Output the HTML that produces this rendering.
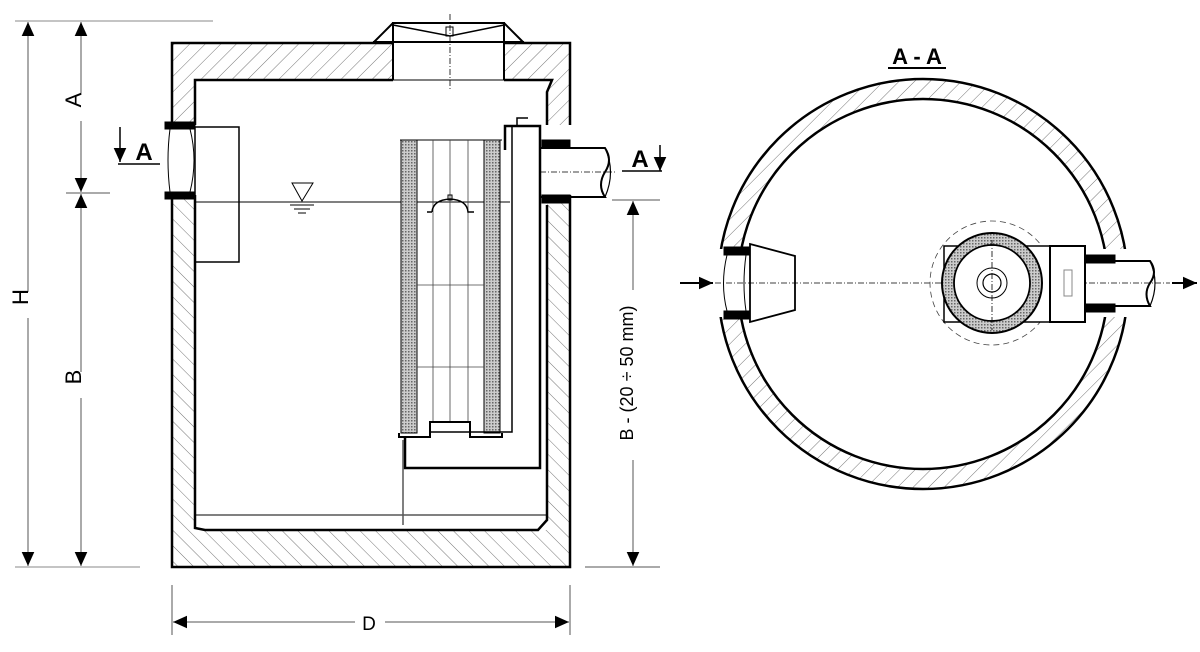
<!DOCTYPE html>
<html><head><meta charset="utf-8"><style>html,body{margin:0;padding:0;background:#fff}svg{display:block}</style></head>
<body>
<svg width="1200" height="652" viewBox="0 0 1200 652" xmlns="http://www.w3.org/2000/svg" font-family="Liberation Sans, sans-serif">
<defs>
<pattern id="h" patternUnits="userSpaceOnUse" width="11" height="11" patternTransform="rotate(45)">
<rect width="11" height="11" fill="#fff"/><line x1="0" y1="0" x2="0" y2="11" stroke="#666" stroke-width="0.9"/></pattern>
<pattern id="h2" patternUnits="userSpaceOnUse" width="11" height="11" patternTransform="rotate(-45)">
<rect width="11" height="11" fill="#fff"/><line x1="0" y1="0" x2="0" y2="11" stroke="#666" stroke-width="0.9"/></pattern>
<pattern id="x" patternUnits="userSpaceOnUse" width="3" height="3">
<rect width="3" height="3" fill="#ccc"/><rect width="1.5" height="1.5" fill="#666"/></pattern>
<marker id="ar" viewBox="0 0 10 10" refX="10" refY="5" markerUnits="userSpaceOnUse" markerWidth="16" markerHeight="14" orient="auto-start-reverse"><path d="M0,0.5 L10,5 L0,9.5z" fill="#000"/></marker>
</defs>
<g stroke="#000" fill="none">
<!-- left dims -->
<line x1="15" y1="21" x2="213" y2="21" stroke="#888"/>
<line x1="15" y1="567" x2="140" y2="567" stroke="#888"/>
<line x1="66" y1="193" x2="110" y2="193" stroke="#555"/>
<line x1="28" y1="22" x2="28" y2="566" stroke="#555" marker-start="url(#ar)" marker-end="url(#ar)"/>
<line x1="81" y1="22" x2="81" y2="192" stroke="#555" marker-start="url(#ar)" marker-end="url(#ar)"/>
<line x1="81" y1="194" x2="81" y2="566" stroke="#555" marker-start="url(#ar)" marker-end="url(#ar)"/>
<rect x="20" y="292" width="18" height="26" fill="#fff" stroke="none"/>
<rect x="72" y="95" width="18" height="26" fill="#fff" stroke="none"/>
<rect x="72" y="372" width="18" height="26" fill="#fff" stroke="none"/>
<!-- section markers -->
<line x1="120" y1="127" x2="120" y2="162" stroke-width="1.5" marker-end="url(#ar)"/>
<line x1="118" y1="164" x2="160" y2="164" stroke-width="1.5"/>
<line x1="660" y1="145" x2="660" y2="171" stroke-width="1.5" marker-end="url(#ar)"/>
<line x1="622" y1="171" x2="662" y2="171" stroke-width="1.5"/>
<!-- right dim -->
<line x1="612" y1="200" x2="660" y2="200" stroke="#555"/>
<line x1="585" y1="567" x2="660" y2="567" stroke="#555"/>
<line x1="633" y1="201" x2="633" y2="566" stroke="#555" marker-start="url(#ar)" marker-end="url(#ar)"/>
<rect x="624" y="290" width="18" height="170" fill="#fff" stroke="none"/>
<!-- bottom dim -->
<line x1="172" y1="585" x2="172" y2="635" stroke="#555"/>
<line x1="570" y1="585" x2="570" y2="635" stroke="#555"/>
<line x1="173" y1="622" x2="569" y2="622" stroke="#555" marker-start="url(#ar)" marker-end="url(#ar)"/>
<rect x="355" y="612" width="30" height="20" fill="#fff" stroke="none"/>

<!-- tank body hatch -->
<path d="M172,43 H393 V80 H195 V125 H172Z" fill="url(#h)" stroke="none"/>
<path d="M504,43 H570 V125 H547 V92 L550,80 H504Z" fill="url(#h)" stroke="none"/>
<path d="M172,195 H195 V530 H547 V195 H570 V567 H172Z" fill="url(#h2)" stroke="none"/>
<path d="M172,125 V43 H393 M504,43 H570 V125" stroke-width="2.5"/>
<path d="M393,80 H195 V125 M547,125 V92 L552,80 H504" stroke-width="2.5"/>
<path d="M172,195 V567 H570 V195" stroke-width="2.5"/>
<path d="M195,195 V528 L205,530 H538 L547,520 V205" stroke-width="2.5"/>
<line x1="195" y1="515" x2="547" y2="515" stroke-width="1"/>
<line x1="393" y1="80" x2="504" y2="80" stroke-width="1"/>
<!-- cover -->
<path d="M393,80 V23 H504 V80" stroke-width="2"/>
<path d="M373,43 L393,23 M524,43 L504,23" stroke-width="2"/>
<line x1="373" y1="42" x2="524" y2="42" stroke-width="2"/>
<path d="M393,25 L450,36 L504,25" stroke-width="1.5"/>
<rect x="446" y="27" width="7" height="9" stroke-width="1"/>
<line x1="450" y1="14" x2="450" y2="90" stroke-dasharray="6 2 1 2" stroke-width="0.8"/>
<!-- inlet -->
<rect x="165" y="122" width="30" height="7" fill="#000"/>
<rect x="165" y="192" width="30" height="7" fill="#000"/>
<path d="M170,129 Q166,160 170,192 M190,129 Q198,160 190,192" stroke-width="1"/>
<rect x="195" y="127" width="44" height="135" stroke-width="1.5"/>
<!-- water -->
<line x1="195" y1="202" x2="510" y2="202" stroke-width="1"/>
<path d="M292,183 H313 L302,201Z" stroke-width="1"/>
<line x1="290" y1="205" x2="314" y2="205"/><line x1="294" y1="209" x2="310" y2="209"/><line x1="298" y1="213" x2="306" y2="213"/>
<!-- filter -->
<rect x="401" y="140" width="16" height="293" fill="url(#x)" stroke-width="1"/>
<rect x="484" y="140" width="16" height="293" fill="url(#x)" stroke-width="1"/>
<line x1="400" y1="140" x2="502" y2="140"/>
<g stroke-width="0.8" stroke="#444"><line x1="433" y1="140" x2="433" y2="423"/><line x1="450" y1="140" x2="450" y2="423"/><line x1="468" y1="140" x2="468" y2="423"/>
<line x1="417" y1="285" x2="484" y2="285"/><line x1="417" y1="367" x2="484" y2="367"/></g>
<path d="M432,212 Q433,200 450,199 Q467,200 468,212 H474 M432,212 H427" stroke-width="1.5"/>
<rect x="448" y="195" width="4" height="5"/>
<path d="M399,433 V437 H430 V422 H470 V437 H502 V433" stroke-width="2"/>
<!-- outlet box -->
<path d="M505,150 V126 H540 V468 H405 V437" stroke-width="2.5"/>
<path d="M512,126 V432 H430" stroke-width="1.5"/>
<path d="M517,126 V118 H528" stroke-width="1.5"/>
<line x1="403" y1="440" x2="403" y2="525" stroke="#555" stroke-width="1.5"/>
<!-- outlet pipe -->
<rect x="542" y="140" width="28" height="8" fill="#000"/>
<rect x="542" y="195" width="28" height="8" fill="#000"/>
<path d="M540,148 H605 Q613,160 605,172 Q597,185 605,197 H540" stroke-width="2"/>
<path d="M605,148 Q616,172 605,197" stroke-width="1.2"/>
<line x1="540" y1="172" x2="615" y2="172" stroke-dasharray="6 2 1 2" stroke-width="0.8"/>

<!-- Section A-A -->
<circle cx="923" cy="284" r="195" fill="none" stroke="url(#h)" stroke-width="20"/>
<circle cx="923" cy="284" r="205" stroke-width="2.5"/>
<circle cx="923" cy="284" r="185" stroke-width="2.5"/>
<rect x="716" y="249" width="34" height="68" fill="#fff" stroke="none"/>
<rect x="1086" y="249" width="44" height="68" fill="#fff" stroke="none"/>
<rect x="724" y="247" width="26" height="8" fill="#000"/>
<rect x="724" y="311" width="26" height="8" fill="#000"/>
<path d="M727,255 Q720,284 727,311 M746,255 Q742,284 746,311" stroke-width="1"/>
<path d="M750,244 L795,256 V310 L750,322Z" stroke-width="1.8"/>
<line x1="715" y1="283" x2="1170" y2="283" stroke-dasharray="6 2 1 2" stroke-width="0.8"/>
<line x1="680" y1="283" x2="713" y2="283" stroke-width="2" marker-end="url(#ar)"/>
<line x1="1172" y1="283" x2="1197" y2="283" stroke-width="2" marker-end="url(#ar)"/>
<circle cx="992" cy="283" r="62" stroke-dasharray="6 4" stroke-width="0.8" stroke="#444"/>
<rect x="944" y="246" width="106" height="76" fill="#fff" stroke-width="1.5"/>
<circle cx="992" cy="283" r="50" fill="url(#x)" stroke-width="2"/>
<circle cx="992" cy="283" r="38" fill="#fff" stroke-width="1.8"/>
<circle cx="992" cy="283" r="15" stroke-width="1"/>
<circle cx="992" cy="283" r="9" stroke-width="1.2"/>
<line x1="992" y1="240" x2="992" y2="330" stroke-dasharray="6 2 1 2" stroke-width="0.8"/>
<rect x="1050" y="246" width="35" height="76" fill="#fff" stroke-width="2"/>
<rect x="1064" y="270" width="8" height="26" stroke="#888"/>
<rect x="1085" y="255" width="30" height="8" fill="#000"/>
<rect x="1085" y="304" width="30" height="8" fill="#000"/>
<path d="M1085,261 H1150 Q1158,272 1150,283 Q1143,294 1150,306 H1085" stroke-width="2"/>
<path d="M1150,261 Q1160,283 1150,306" stroke-width="1.2"/>
<line x1="888" y1="68" x2="946" y2="68" stroke-width="2"/>
</g>
<g font-size="22" fill="#000" text-anchor="middle">
<text x="36" y="305" transform="rotate(-90 28 305)">H</text>
<text x="89" y="108" transform="rotate(-90 81 108)">A</text>
<text x="89" y="385" transform="rotate(-90 81 385)">B</text>
<text x="640" y="380" transform="rotate(-90 633 380)" font-size="18">B - (20 ÷ 50 mm)</text>
<text x="369" y="630" font-size="19">D</text>
<text x="144" y="160" font-size="24" font-weight="bold">A</text>
<text x="640" y="167" font-size="24" font-weight="bold">A</text>
<text x="917" y="64" font-size="22" font-weight="bold">A - A</text>
</g>
</svg>
</body></html>
